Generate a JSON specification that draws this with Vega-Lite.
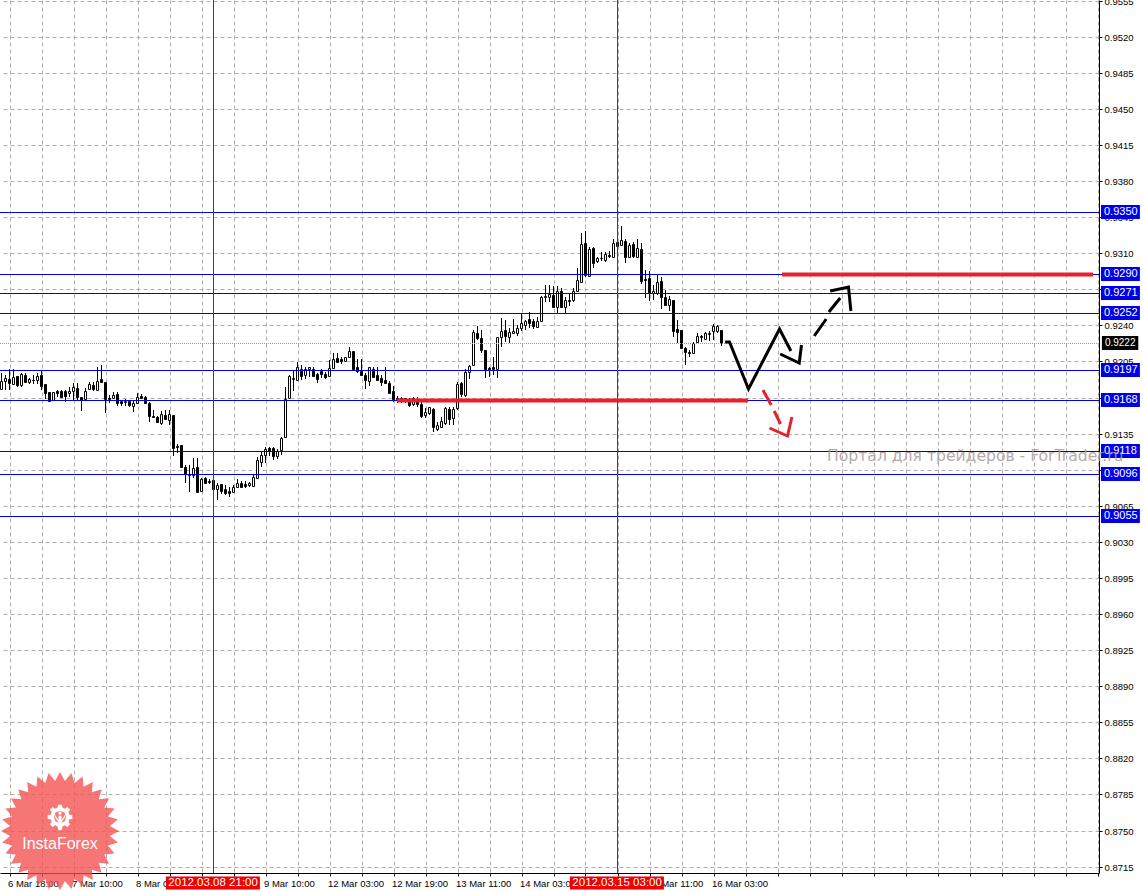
{
"$schema":"https://vega.github.io/schema/vega-lite/v6.json",
"autosize":{"type":"none"},
"width":1099,"height":873,
"padding":{"left":0,"top":0,"right":44,"bottom":18},
"background":"#ffffff",
"config":{"view":{"stroke":null},"text":{"font":"Liberation Sans"}},
"datasets":{
"candles":[
{"i":0,"o":0.91786,"h":0.91935,"l":0.91773,"c":0.91857},
{"i":1,"o":0.91864,"h":0.91919,"l":0.91773,"c":0.91889},
{"i":2,"o":0.91877,"h":0.91973,"l":0.91773,"c":0.91844},
{"i":3,"o":0.91831,"h":0.91973,"l":0.91822,"c":0.91896},
{"i":4,"o":0.91909,"h":0.91909,"l":0.91799,"c":0.91825},
{"i":5,"o":0.91818,"h":0.91941,"l":0.91799,"c":0.91928},
{"i":6,"o":0.91922,"h":0.91935,"l":0.91838,"c":0.91851},
{"i":7,"o":0.91851,"h":0.91893,"l":0.91831,"c":0.91877},
{"i":8,"o":0.91867,"h":0.91919,"l":0.91831,"c":0.91873},
{"i":9,"o":0.91873,"h":0.91935,"l":0.91831,"c":0.91906},
{"i":10,"o":0.91919,"h":0.91961,"l":0.91773,"c":0.91815},
{"i":11,"o":0.91831,"h":0.91831,"l":0.91683,"c":0.91741},
{"i":12,"o":0.9175,"h":0.9175,"l":0.9167,"c":0.9167},
{"i":13,"o":0.91676,"h":0.91757,"l":0.9167,"c":0.9175},
{"i":14,"o":0.91763,"h":0.91773,"l":0.91708,"c":0.91741},
{"i":15,"o":0.91763,"h":0.91773,"l":0.91702,"c":0.91708},
{"i":16,"o":0.9176,"h":0.91773,"l":0.91657,"c":0.91715},
{"i":17,"o":0.91747,"h":0.91799,"l":0.91702,"c":0.91767},
{"i":18,"o":0.91767,"h":0.91838,"l":0.9167,"c":0.91799},
{"i":19,"o":0.91792,"h":0.91844,"l":0.91676,"c":0.91702},
{"i":20,"o":0.91702,"h":0.91708,"l":0.91573,"c":0.91676},
{"i":21,"o":0.91683,"h":0.91789,"l":0.91676,"c":0.91767},
{"i":22,"o":0.9178,"h":0.91854,"l":0.91773,"c":0.91831},
{"i":23,"o":0.91822,"h":0.91854,"l":0.91767,"c":0.9178},
{"i":24,"o":0.91773,"h":0.91993,"l":0.91773,"c":0.91864},
{"i":25,"o":0.91877,"h":0.92016,"l":0.91844,"c":0.91851},
{"i":26,"o":0.91851,"h":0.91854,"l":0.91553,"c":0.91683},
{"i":27,"o":0.91695,"h":0.91725,"l":0.9165,"c":0.91689},
{"i":28,"o":0.91695,"h":0.91757,"l":0.91683,"c":0.91725},
{"i":29,"o":0.91734,"h":0.91757,"l":0.91618,"c":0.9165},
{"i":30,"o":0.91663,"h":0.91676,"l":0.91621,"c":0.91644},
{"i":31,"o":0.91653,"h":0.91683,"l":0.91618,"c":0.91663},
{"i":32,"o":0.91663,"h":0.91676,"l":0.91611,"c":0.91631},
{"i":33,"o":0.91618,"h":0.91676,"l":0.91563,"c":0.91644},
{"i":34,"o":0.9165,"h":0.91741,"l":0.91644,"c":0.91708},
{"i":35,"o":0.91715,"h":0.91731,"l":0.91683,"c":0.91699},
{"i":36,"o":0.91702,"h":0.91715,"l":0.91637,"c":0.9165},
{"i":37,"o":0.9165,"h":0.9166,"l":0.91466,"c":0.91521},
{"i":38,"o":0.91521,"h":0.91579,"l":0.91514,"c":0.91514},
{"i":39,"o":0.91511,"h":0.91521,"l":0.9145,"c":0.91463},
{"i":40,"o":0.91456,"h":0.91573,"l":0.9143,"c":0.9154},
{"i":41,"o":0.91531,"h":0.91579,"l":0.91482,"c":0.91495},
{"i":42,"o":0.91482,"h":0.91579,"l":0.91434,"c":0.9154},
{"i":43,"o":0.91531,"h":0.91531,"l":0.91133,"c":0.9121},
{"i":44,"o":0.91227,"h":0.91249,"l":0.91159,"c":0.9122},
{"i":45,"o":0.91236,"h":0.9124,"l":0.91029,"c":0.91029},
{"i":46,"o":0.91029,"h":0.91046,"l":0.90868,"c":0.90958},
{"i":47,"o":0.90952,"h":0.91042,"l":0.90784,"c":0.90945},
{"i":48,"o":0.90952,"h":0.9111,"l":0.90916,"c":0.91013},
{"i":49,"o":0.91029,"h":0.9111,"l":0.90784,"c":0.90787},
{"i":50,"o":0.90797,"h":0.90916,"l":0.90797,"c":0.90913},
{"i":51,"o":0.9092,"h":0.90926,"l":0.90861,"c":0.90874},
{"i":52,"o":0.9089,"h":0.90907,"l":0.90861,"c":0.90884},
{"i":53,"o":0.909,"h":0.909,"l":0.90803,"c":0.9081},
{"i":54,"o":0.90816,"h":0.90868,"l":0.90706,"c":0.90852},
{"i":55,"o":0.90861,"h":0.90861,"l":0.90764,"c":0.90797},
{"i":56,"o":0.9081,"h":0.90852,"l":0.90755,"c":0.90777},
{"i":57,"o":0.90797,"h":0.90835,"l":0.90732,"c":0.90777},
{"i":58,"o":0.90787,"h":0.90852,"l":0.90777,"c":0.90835},
{"i":59,"o":0.90828,"h":0.90907,"l":0.90819,"c":0.90874},
{"i":60,"o":0.90874,"h":0.90887,"l":0.90823,"c":0.90835},
{"i":61,"o":0.90865,"h":0.90887,"l":0.90823,"c":0.90842},
{"i":62,"o":0.90855,"h":0.90884,"l":0.90835,"c":0.90868},
{"i":63,"o":0.90842,"h":0.90949,"l":0.90842,"c":0.90926},
{"i":64,"o":0.90916,"h":0.91126,"l":0.90907,"c":0.91094},
{"i":65,"o":0.91075,"h":0.91175,"l":0.91023,"c":0.91143},
{"i":66,"o":0.91146,"h":0.91217,"l":0.91068,"c":0.91198},
{"i":67,"o":0.91207,"h":0.91223,"l":0.91133,"c":0.91185},
{"i":68,"o":0.91207,"h":0.91223,"l":0.91094,"c":0.91133},
{"i":69,"o":0.91133,"h":0.91198,"l":0.91101,"c":0.91178},
{"i":70,"o":0.91191,"h":0.91314,"l":0.91146,"c":0.91308},
{"i":71,"o":0.91314,"h":0.91805,"l":0.91304,"c":0.91689},
{"i":72,"o":0.91695,"h":0.91919,"l":0.91692,"c":0.91909},
{"i":73,"o":0.91883,"h":0.91967,"l":0.91767,"c":0.91889},
{"i":74,"o":0.9187,"h":0.92048,"l":0.91864,"c":0.91993},
{"i":75,"o":0.9198,"h":0.92016,"l":0.9187,"c":0.91909},
{"i":76,"o":0.91922,"h":0.92,"l":0.91877,"c":0.9198},
{"i":77,"o":0.91974,"h":0.92,"l":0.91902,"c":0.91993},
{"i":78,"o":0.9198,"h":0.91993,"l":0.91902,"c":0.91909},
{"i":79,"o":0.91928,"h":0.91935,"l":0.91844,"c":0.91877},
{"i":80,"o":0.91957,"h":0.91974,"l":0.91886,"c":0.91931},
{"i":81,"o":0.91931,"h":0.91951,"l":0.91877,"c":0.91902},
{"i":82,"o":0.91909,"h":0.92064,"l":0.91909,"c":0.91983},
{"i":83,"o":0.91986,"h":0.92129,"l":0.91983,"c":0.92071},
{"i":84,"o":0.92083,"h":0.92135,"l":0.92032,"c":0.92045},
{"i":85,"o":0.92074,"h":0.92096,"l":0.92025,"c":0.92058},
{"i":86,"o":0.92058,"h":0.92096,"l":0.92048,"c":0.92093},
{"i":87,"o":0.92096,"h":0.92187,"l":0.92096,"c":0.92151},
{"i":88,"o":0.92148,"h":0.92151,"l":0.91967,"c":0.91974},
{"i":89,"o":0.91993,"h":0.92077,"l":0.91935,"c":0.91961},
{"i":90,"o":0.91957,"h":0.92071,"l":0.91919,"c":0.91919},
{"i":91,"o":0.91919,"h":0.91935,"l":0.91786,"c":0.9187},
{"i":92,"o":0.91864,"h":0.92,"l":0.91812,"c":0.91993},
{"i":93,"o":0.9198,"h":0.91993,"l":0.91886,"c":0.91902},
{"i":94,"o":0.91922,"h":0.91993,"l":0.9187,"c":0.9187},
{"i":95,"o":0.9189,"h":0.91915,"l":0.91812,"c":0.91854},
{"i":96,"o":0.9187,"h":0.92,"l":0.91831,"c":0.91844},
{"i":97,"o":0.91844,"h":0.91864,"l":0.91741,"c":0.91747},
{"i":98,"o":0.91763,"h":0.91813,"l":0.91657,"c":0.91683},
{"i":99,"o":0.91695,"h":0.91713,"l":0.9165,"c":0.91689},
{"i":100,"o":0.91692,"h":0.91708,"l":0.91644,"c":0.91686},
{"i":101,"o":0.91676,"h":0.91695,"l":0.9165,"c":0.91692},
{"i":102,"o":0.9167,"h":0.91692,"l":0.91611,"c":0.91628},
{"i":103,"o":0.91637,"h":0.91708,"l":0.91618,"c":0.91692},
{"i":104,"o":0.9167,"h":0.91702,"l":0.91611,"c":0.91637},
{"i":105,"o":0.91637,"h":0.9167,"l":0.91498,"c":0.91521},
{"i":106,"o":0.91527,"h":0.91595,"l":0.91498,"c":0.9156},
{"i":107,"o":0.91547,"h":0.91611,"l":0.91531,"c":0.91605},
{"i":108,"o":0.91585,"h":0.91595,"l":0.91369,"c":0.91411},
{"i":109,"o":0.91398,"h":0.91466,"l":0.91379,"c":0.91434},
{"i":110,"o":0.91411,"h":0.91514,"l":0.91401,"c":0.91476},
{"i":111,"o":0.91456,"h":0.91611,"l":0.91434,"c":0.91602},
{"i":112,"o":0.91592,"h":0.91605,"l":0.91434,"c":0.91495},
{"i":113,"o":0.91501,"h":0.91611,"l":0.91434,"c":0.91585},
{"i":114,"o":0.91598,"h":0.91854,"l":0.91579,"c":0.91831},
{"i":115,"o":0.91838,"h":0.91854,"l":0.91702,"c":0.91734},
{"i":116,"o":0.91728,"h":0.91974,"l":0.91702,"c":0.91948},
{"i":117,"o":0.91948,"h":0.92016,"l":0.91877,"c":0.92006},
{"i":118,"o":0.92012,"h":0.92355,"l":0.92006,"c":0.92336},
{"i":119,"o":0.92329,"h":0.92394,"l":0.92258,"c":0.92277},
{"i":120,"o":0.92277,"h":0.92355,"l":0.92129,"c":0.92161},
{"i":121,"o":0.92161,"h":0.92161,"l":0.91886,"c":0.91974},
{"i":122,"o":0.91986,"h":0.92,"l":0.91896,"c":0.9198},
{"i":123,"o":0.91993,"h":0.92096,"l":0.91919,"c":0.91974},
{"i":124,"o":0.9198,"h":0.9229,"l":0.91886,"c":0.92284},
{"i":125,"o":0.9229,"h":0.92468,"l":0.92187,"c":0.92342},
{"i":126,"o":0.92355,"h":0.92452,"l":0.92242,"c":0.92297},
{"i":127,"o":0.9229,"h":0.92371,"l":0.92232,"c":0.92336},
{"i":128,"o":0.92323,"h":0.92465,"l":0.92316,"c":0.92342},
{"i":129,"o":0.92329,"h":0.92407,"l":0.92297,"c":0.92374},
{"i":130,"o":0.92374,"h":0.9251,"l":0.92349,"c":0.9242},
{"i":131,"o":0.92407,"h":0.92452,"l":0.92355,"c":0.92446},
{"i":132,"o":0.92459,"h":0.92533,"l":0.92371,"c":0.92426},
{"i":133,"o":0.92439,"h":0.92459,"l":0.92362,"c":0.92394},
{"i":134,"o":0.92387,"h":0.92484,"l":0.92387,"c":0.92439},
{"i":135,"o":0.92446,"h":0.92685,"l":0.92436,"c":0.92672},
{"i":136,"o":0.92678,"h":0.92792,"l":0.9263,"c":0.92685},
{"i":137,"o":0.92672,"h":0.92792,"l":0.9263,"c":0.92704},
{"i":138,"o":0.92695,"h":0.92782,"l":0.92575,"c":0.92581},
{"i":139,"o":0.92575,"h":0.92782,"l":0.9251,"c":0.92737},
{"i":140,"o":0.9273,"h":0.92759,"l":0.92575,"c":0.92575},
{"i":141,"o":0.92575,"h":0.92672,"l":0.9251,"c":0.92646},
{"i":142,"o":0.92646,"h":0.92711,"l":0.92588,"c":0.92633},
{"i":143,"o":0.92646,"h":0.92759,"l":0.9263,"c":0.9273},
{"i":144,"o":0.92737,"h":0.92953,"l":0.92737,"c":0.9284},
{"i":145,"o":0.92824,"h":0.93299,"l":0.92824,"c":0.93189},
{"i":146,"o":0.93196,"h":0.93319,"l":0.92872,"c":0.92889},
{"i":147,"o":0.92879,"h":0.93163,"l":0.92866,"c":0.93144},
{"i":148,"o":0.9315,"h":0.93157,"l":0.92953,"c":0.93008},
{"i":149,"o":0.93021,"h":0.9306,"l":0.93008,"c":0.93053},
{"i":150,"o":0.93057,"h":0.93112,"l":0.93028,"c":0.9305},
{"i":151,"o":0.93034,"h":0.93108,"l":0.93018,"c":0.93089},
{"i":152,"o":0.93079,"h":0.93125,"l":0.9305,"c":0.93073},
{"i":153,"o":0.9306,"h":0.93234,"l":0.9306,"c":0.93196},
{"i":154,"o":0.93205,"h":0.93244,"l":0.93099,"c":0.93173},
{"i":155,"o":0.9318,"h":0.93364,"l":0.9317,"c":0.93228},
{"i":156,"o":0.93222,"h":0.93234,"l":0.93002,"c":0.9306},
{"i":157,"o":0.93066,"h":0.93202,"l":0.93053,"c":0.9318},
{"i":158,"o":0.93189,"h":0.93212,"l":0.9305,"c":0.93073},
{"i":159,"o":0.93066,"h":0.93234,"l":0.9306,"c":0.9315},
{"i":160,"o":0.93144,"h":0.93202,"l":0.92801,"c":0.92834},
{"i":161,"o":0.9285,"h":0.92937,"l":0.92665,"c":0.92843},
{"i":162,"o":0.92856,"h":0.92931,"l":0.9264,"c":0.92717},
{"i":163,"o":0.92711,"h":0.92792,"l":0.92646,"c":0.92737},
{"i":164,"o":0.92711,"h":0.92898,"l":0.92695,"c":0.92821},
{"i":165,"o":0.92827,"h":0.92866,"l":0.92556,"c":0.92672},
{"i":166,"o":0.92672,"h":0.92743,"l":0.92594,"c":0.92594},
{"i":167,"o":0.92601,"h":0.92685,"l":0.92543,"c":0.92659},
{"i":168,"o":0.92646,"h":0.92646,"l":0.92284,"c":0.92349},
{"i":169,"o":0.92362,"h":0.92452,"l":0.92232,"c":0.92336},
{"i":170,"o":0.92355,"h":0.92355,"l":0.92177,"c":0.9218},
{"i":171,"o":0.9218,"h":0.92193,"l":0.92012,"c":0.92145},
{"i":172,"o":0.92138,"h":0.92161,"l":0.9209,"c":0.92132},
{"i":173,"o":0.92135,"h":0.92242,"l":0.92129,"c":0.92232},
{"i":174,"o":0.92242,"h":0.92323,"l":0.92232,"c":0.92297},
{"i":175,"o":0.923,"h":0.9231,"l":0.92242,"c":0.9229},
{"i":176,"o":0.92271,"h":0.92339,"l":0.92258,"c":0.92323},
{"i":177,"o":0.92319,"h":0.92349,"l":0.92252,"c":0.92326},
{"i":178,"o":0.92342,"h":0.92413,"l":0.92258,"c":0.92394},
{"i":179,"o":0.92349,"h":0.92404,"l":0.92323,"c":0.92394},
{"i":180,"o":0.92355,"h":0.92355,"l":0.922,"c":0.92232}
],
"levels":[{"p":0.935},{"p":0.929},{"p":0.9271},{"p":0.9252},{"p":0.9197},{"p":0.9168},{"p":0.9118},{"p":0.9096},{"p":0.9055}],
"thick":[{"i":98.9,"i2":186.6,"p":0.9168},{"i":195.1,"i2":272.9,"p":0.929}],
"marks":[
{"g":"b1","col":"k","i":180.9,"p":0.92242},{"g":"b1","col":"k","i":182,"p":0.92242},{"g":"b1","col":"k","i":186.75,"p":0.9178},{"g":"b1","col":"k","i":194.5,"p":0.92362},{"g":"b1","col":"k","i":197.35,"p":0.92155},
{"g":"b2","col":"k","i":194.68,"p":0.92123},{"g":"b2","col":"k","i":199.43,"p":0.92032},{"g":"b2","col":"k","i":200,"p":0.9221},
{"g":"b3","col":"k","i":203.18,"p":0.92297},{"g":"b3","col":"k","i":206.18,"p":0.92462},
{"g":"b4","col":"k","i":206.85,"p":0.92533},{"g":"b4","col":"k","i":209.68,"p":0.92663},
{"g":"b5","col":"k","i":207.18,"p":0.92737},{"g":"b5","col":"k","i":211.75,"p":0.9277},{"g":"b5","col":"k","i":212.35,"p":0.92543},
{"g":"r1","col":"r","i":190.35,"p":0.91773},{"g":"r1","col":"r","i":192.43,"p":0.91625},
{"g":"r2","col":"r","i":193.18,"p":0.91573},{"g":"r2","col":"r","i":194.75,"p":0.91441},
{"g":"r3","col":"r","i":192,"p":0.91408},{"g":"r3","col":"r","i":196.5,"p":0.91327},{"g":"r3","col":"r","i":197.6,"p":0.91514}
],
"dates":[{"i":52.9,"i1":41.1,"i2":64.6,"p":0.86992,"t":"2012.03.08 21:00"},{"i":153.9,"i1":142.1,"i2":165.6,"p":0.86992,"t":"2012.03.15 03:00"}]
},
"layer":[
{"data":{"name":"candles"},"mark":{"type":"rule","color":"#000000","strokeWidth":1},
"encoding":{
"x":{"field":"i","type":"quantitative","title":null,"scale":{"domain":[-0.375,274.375],"nice":false,"zero":false,"padding":0},
"axis":{"orient":"bottom","title":null,"tickCount":40,"values":[2,10,18,26,34,42,50,58,66,74,82,90,98,106,114,122,130,138,146,154,162,170,178,186,194,202,210,218,226,234,242,250,258,266,274],"grid":true,"gridColor":"#b5acac","gridDash":[4,3],"gridWidth":1,"domainColor":"#000000","tickColor":"#000000","tickSize":3,"labelOverlap":false,"labelFlush":false,"labelAlign":"left","labelBaseline":"middle","labelPadding":7,"labelOffset":-2,"labelFont":"Liberation Sans","labelFontSize":9.5,"labelColor":"#000000","labelExpr":"{'2':'6 Mar 18:00','18':'7 Mar 10:00','34':'8 Mar 02:00','50':'8 Mar 18:00','66':'9 Mar 10:00','82':'12 Mar 03:00','98':'12 Mar 19:00','114':'13 Mar 11:00','130':'14 Mar 03:00','146':'14 Mar 19:00','162':'15 Mar 11:00','178':'16 Mar 03:00'}[datum.value]||''"}},
"y":{"field":"h","type":"quantitative","title":null,"scale":{"domain":[0.870883,0.955564],"nice":false,"zero":false,"padding":0,"round":true},
"axis":{"orient":"right","title":null,"tickCount":30,"values":[0.9555,0.952,0.9485,0.945,0.9415,0.938,0.9345,0.931,0.9275,0.924,0.9205,0.917,0.9135,0.91,0.9065,0.903,0.8995,0.896,0.8925,0.889,0.8855,0.882,0.8785,0.875,0.8715],"format":".4f","grid":true,"gridColor":"#b5acac","gridDash":[4,3],"gridWidth":1,"domainColor":"#000000","tickColor":"#000000","tickSize":3,"labelOverlap":false,"labelFlush":false,"labelPadding":2,"labelFont":"Liberation Sans","labelFontSize":9.5,"labelColor":"#000000"}},
"y2":{"field":"l"}}},
{"data":{"name":"candles"},"mark":{"type":"bar","size":2,"stroke":"#000000","strokeWidth":1,"yOffset":0.5,"y2Offset":0.5},
"encoding":{
"x":{"field":"i","type":"quantitative","title":null,"scale":{"domain":[-0.375,274.375],"nice":false,"zero":false,"padding":0}},
"y":{"field":"o","type":"quantitative","title":null,"scale":{"domain":[0.870883,0.955564],"nice":false,"zero":false,"padding":0,"round":true}},
"y2":{"field":"c"},
"fill":{"condition":{"test":"datum.c>=datum.o","value":"#ffffff"},"value":"#000000"}}},
{"data":{"values":[{"p":0.9223}]},"mark":{"type":"rule","color":"#999999","strokeWidth":1,"strokeDash":[1,1],"yOffset":0.5},
"encoding":{"y":{"field":"p","type":"quantitative","title":null,"scale":{"domain":[0.870883,0.955564],"nice":false,"zero":false,"padding":0,"round":true}}}},
{"data":{"name":"levels"},"mark":{"type":"rule","color":"#0000e0","strokeWidth":1,"yOffset":0.5},
"encoding":{"y":{"field":"p","type":"quantitative","title":null,"scale":{"domain":[0.870883,0.955564],"nice":false,"zero":false,"padding":0,"round":true}}}},
{"data":{"values":[{"i":53},{"i":154}]},"mark":{"type":"rule","color":"#e00000","strokeWidth":1},
"encoding":{"x":{"field":"i","type":"quantitative","title":null,"scale":{"domain":[-0.375,274.375],"nice":false,"zero":false,"padding":0}}}},
{"data":{"name":"thick"},"mark":{"type":"rule","color":"#e8202a","strokeWidth":4,"yOffset":0.5},
"encoding":{
"x":{"field":"i","type":"quantitative","title":null,"scale":{"domain":[-0.375,274.375],"nice":false,"zero":false,"padding":0}},
"x2":{"field":"i2"},
"y":{"field":"p","type":"quantitative","title":null,"scale":{"domain":[0.870883,0.955564],"nice":false,"zero":false,"padding":0,"round":true}}}},
{"data":{"name":"marks"},"mark":{"type":"line","strokeWidth":3,"strokeCap":"butt","strokeJoin":"miter"},
"encoding":{
"x":{"field":"i","type":"quantitative","title":null,"scale":{"domain":[-0.375,274.375],"nice":false,"zero":false,"padding":0}},
"y":{"field":"p","type":"quantitative","title":null,"scale":{"domain":[0.870883,0.955564],"nice":false,"zero":false,"padding":0,"round":true}},
"detail":{"field":"g"},
"color":{"field":"col","type":"nominal","scale":{"domain":["k","r"],"range":["#000000","#e8202a"]},"legend":null}}},
{"data":{"name":"levels"},"mark":{"type":"bar","size":14,"color":"#0000e8"},
"encoding":{
"x":{"datum":274.875,"type":"quantitative","title":null,"scale":{"domain":[-0.375,274.375],"nice":false,"zero":false,"padding":0}},
"x2":{"datum":284.6},
"y":{"field":"p","type":"quantitative","title":null,"scale":{"domain":[0.870883,0.955564],"nice":false,"zero":false,"padding":0,"round":true}}}},
{"data":{"name":"levels"},"mark":{"type":"text","align":"left","baseline":"middle","color":"#ffffff","font":"Liberation Sans","fontSize":11,"dx":3},
"encoding":{
"x":{"datum":274.875,"type":"quantitative","title":null,"scale":{"domain":[-0.375,274.375],"nice":false,"zero":false,"padding":0}},
"y":{"field":"p","type":"quantitative","title":null,"scale":{"domain":[0.870883,0.955564],"nice":false,"zero":false,"padding":0,"round":true}},
"text":{"field":"p","type":"quantitative","format":".4f"}}},
{"data":{"values":[{"p":0.9223}]},"mark":{"type":"bar","size":14,"color":"#000000"},
"encoding":{
"x":{"datum":275.1,"type":"quantitative","title":null,"scale":{"domain":[-0.375,274.375],"nice":false,"zero":false,"padding":0}},
"x2":{"datum":284.2},
"y":{"field":"p","type":"quantitative","title":null,"scale":{"domain":[0.870883,0.955564],"nice":false,"zero":false,"padding":0,"round":true}}}},
{"data":{"values":[{"p":0.9223,"t":"0.9222"}]},"mark":{"type":"text","align":"left","baseline":"middle","color":"#ffffff","font":"Liberation Sans","fontSize":10,"dx":3},
"encoding":{
"x":{"datum":275.1,"type":"quantitative","title":null,"scale":{"domain":[-0.375,274.375],"nice":false,"zero":false,"padding":0}},
"y":{"field":"p","type":"quantitative","title":null,"scale":{"domain":[0.870883,0.955564],"nice":false,"zero":false,"padding":0,"round":true}},
"text":{"field":"t"}}},
{"data":{"name":"dates"},"mark":{"type":"bar","size":13,"color":"#f00000"},
"encoding":{
"x":{"field":"i1","type":"quantitative","title":null,"scale":{"domain":[-0.375,274.375],"nice":false,"zero":false,"padding":0}},
"x2":{"field":"i2"},
"y":{"field":"p","type":"quantitative","title":null,"scale":{"domain":[0.870883,0.955564],"nice":false,"zero":false,"padding":0,"round":true}}}},
{"data":{"name":"dates"},"mark":{"type":"text","align":"center","baseline":"middle","color":"#ffffff","font":"Liberation Sans","fontSize":11.5},
"encoding":{
"x":{"field":"i","type":"quantitative","title":null,"scale":{"domain":[-0.375,274.375],"nice":false,"zero":false,"padding":0}},
"y":{"field":"p","type":"quantitative","title":null,"scale":{"domain":[0.870883,0.955564],"nice":false,"zero":false,"padding":0,"round":true}},
"text":{"field":"t"}}},
{"data":{"values":[{"i":206.4,"p":0.91133,"t":"Портал для трейдеров - ForTrader.ru"}]},"mark":{"type":"text","align":"left","baseline":"middle","color":"#a89c9c","opacity":0.85,"font":"DejaVu Sans","fontSize":15.6},
"encoding":{
"x":{"field":"i","type":"quantitative","title":null,"scale":{"domain":[-0.375,274.375],"nice":false,"zero":false,"padding":0}},
"y":{"field":"p","type":"quantitative","title":null,"scale":{"domain":[0.870883,0.955564],"nice":false,"zero":false,"padding":0,"round":true}},
"text":{"field":"t"}}},
{"data":{"values":[{"i":14.625,"p":0.87496}]},"mark":{"type":"point","filled":true,"fill":"#f45050","opacity":0.78,"strokeWidth":0,"size":13924,"shape":"M1,0L.846,.083L.981,.195L.813,.247L.924,.383L.75,.4L.831,.556L.657,.539L.707,.707L.539,.657L.556,.831L.4,.75L.383,.924L.247,.813L.195,.981L.083,.846L0,1L-.083,.846L-.195,.981L-.247,.813L-.383,.924L-.4,.75L-.556,.831L-.539,.657L-.707,.707L-.657,.539L-.831,.556L-.75,.4L-.924,.383L-.813,.247L-.981,.195L-.846,.083L-1,0L-.846,-.083L-.981,-.195L-.813,-.247L-.924,-.383L-.75,-.4L-.831,-.556L-.657,-.539L-.707,-.707L-.539,-.657L-.556,-.831L-.4,-.75L-.383,-.924L-.247,-.813L-.195,-.981L-.083,-.846L0,-1L.083,-.846L.195,-.981L.247,-.813L.383,-.924L.4,-.75L.556,-.831L.539,-.657L.707,-.707L.657,-.539L.831,-.556L.75,-.4L.924,-.383L.813,-.247L.981,-.195L.846,-.083Z"},
"encoding":{
"x":{"field":"i","type":"quantitative","title":null,"scale":{"domain":[-0.375,274.375],"nice":false,"zero":false,"padding":0}},
"y":{"field":"p","type":"quantitative","title":null,"scale":{"domain":[0.870883,0.955564],"nice":false,"zero":false,"padding":0,"round":true}}}},
{"data":{"values":[{"i":14.625,"p":0.87632}]},"mark":{"type":"point","filled":true,"fill":"#ffffff","opacity":1,"strokeWidth":0,"size":625,"shape":"M.757,-.189L.988,-.156L.988,.156L.757,.189L.669,.402L.809,.588L.588,.809L.402,.669L.189,.757L.156,.988L-.156,.988L-.189,.757L-.402,.669L-.588,.809L-.809,.588L-.669,.402L-.757,.189L-.988,.156L-.988,-.156L-.757,-.189L-.669,-.402L-.809,-.588L-.588,-.809L-.402,-.669L-.189,-.757L-.156,-.988L.156,-.988L.189,-.757L.402,-.669L.588,-.809L.809,-.588L.669,-.402ZM.5,0L.354,-.354L0,-.5L-.354,-.354L-.5,0L-.354,.354L0,.5L.354,.354ZM-.12,-.1L.12,-.1L.12,1.05L-.12,1.05ZM-.42,-.2L-.1,.25L-.1,.45L-.42,0ZM.42,-.2L.42,0L.1,.45L.1,.25ZM-.12,-.42L.12,-.42L.12,-.2L-.12,-.2Z"},
"encoding":{
"x":{"field":"i","type":"quantitative","title":null,"scale":{"domain":[-0.375,274.375],"nice":false,"zero":false,"padding":0}},
"y":{"field":"p","type":"quantitative","title":null,"scale":{"domain":[0.870883,0.955564],"nice":false,"zero":false,"padding":0,"round":true}}}},
{"data":{"values":[{"i":14.625,"p":0.8737,"t":"InstaForex"}]},"mark":{"type":"text","align":"center","baseline":"middle","color":"#ffffff","font":"Liberation Sans","fontSize":16},
"encoding":{
"x":{"field":"i","type":"quantitative","title":null,"scale":{"domain":[-0.375,274.375],"nice":false,"zero":false,"padding":0}},
"y":{"field":"p","type":"quantitative","title":null,"scale":{"domain":[0.870883,0.955564],"nice":false,"zero":false,"padding":0,"round":true}},
"text":{"field":"t"}}}
]
}
